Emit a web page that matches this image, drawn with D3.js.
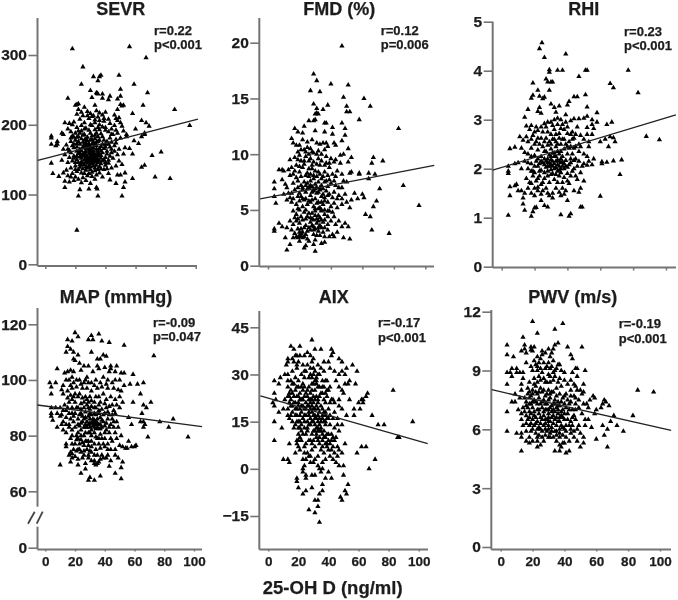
<!DOCTYPE html>
<html><head><meta charset="utf-8">
<script src="https://cdnjs.cloudflare.com/ajax/libs/d3/7.8.5/d3.min.js"></script>
<style>html,body{margin:0;padding:0;background:#fff}svg{display:block;filter:blur(0.4px)}text{font-family:"Liberation Sans",Arial,sans-serif;font-weight:bold;fill:#1c1c1c;stroke:#1c1c1c;stroke-width:0.25px}</style>
</head><body><svg id="c" width="678" height="600"></svg>
<script>
const xTickValues=[0,20,40,60,80,100];
const sevrTicks=[0,100,200,300], fmdTicks=[0,5,10,15,20], rhiTicks=[0,1,2,3,4,5], mapTicks=[0,60,80,100,120], aixTicks=[-15,0,15,30,45], pwvTicks=[0,3,6,9,12];
const sevrStats=["r=0.22","p<0.001"], fmdStats=["r=0.12","p=0.006"], rhiStats=["r=0.23","p<0.001"], mapStats=["r=-0.09","p=0.047"], aixStats=["r=-0.17","p<0.001"], pwvStats=["r=-0.19","p<0.001"];
const sevrLine=[[-5,149],[101.5,208]], fmdLine=[[-5,6],[105.7,9]], rhiLine=[[-5.5,1.97],[106,3.1]], mapLine=[[-5.3,91],[105.4,83.2]], aixLine=[[-5.3,23.2],[106,8]], pwvLine=[[-5.6,8.02],[107,5.95]];

const sevrPoints=[[18,309],[56,312],[67,296],[25,283],[32,269],[37,271],[36,269],[35,263],[49,271],[24,258],[59,258],[30,249],[50,251],[34,246],[34.5,245],[35,244],[38,244],[68,246],[43,241],[50,241],[15,238],[31,239],[38,238],[42,236],[48,237],[20,228],[22,230],[21,229],[33,228],[50,229],[52,228],[51,227],[65,228],[86,222],[48,222],[58,216],[64,206],[67,203],[69,198],[96,199],[60,194],[66,188],[59,177],[62,173],[58,158],[71,156],[77,161],[66,142],[64,139],[73,125],[83,123],[58,123],[51,98],[35,98],[22,98],[21,49],[13,110],[23,107],[29,108],[34,110],[34.5,108],[52,110],[53,118],[47,116],[43,121],[50,128],[53,131],[4,145],[5,130],[9,126],[4,184],[4,172],[8,172],[8,176],[11,188],[13,203],[16,202],[19,204],[7,170],[4,181],[12,186],[15,194],[18,200],[66,186],[64,183],[54,186],
[22,222],[24,218],[25,213],[21,215],[23,208],[26,203],[28,219],[30,216],[32,213],[34,220],[36,217],[38,214],[40,218],[33,207],[29,209],[36,206],[39,205],[42,208],[47,209],[48,206],[50,203],[51,198],[46,199],[44,194],[40,192],[35,196],[31,199],[27,195],[24,191],[20,188],[18,184],[22,183],[26,186],[30,188],[33,185],[37,187],[42,190],[45,186],[48,188],[52,191],[54,183],[50,181],[47,179],[43,181],[39,178],[35,176],[31,179],[28,177],[25,175],[21,173],[17,176],[14,171],[12,165],[16,163],[19,167],[23,165],[26,168],[29,170],[32,167],[34,170],[37,169],[40,172],[43,168],[46,170],[49,165],[53,167],[56,166],[52,158],[48,157],[44,160],[41,162],[38,160],[35,163],[32,160],[29,158],[27,161],[24,156],[22,159],[19,155],[16,153],[13,157],[11,149],[15,146],[18,148],[21,150],[24,147],[27,151],[30,152],[33,154],[31,148],[35,150],[37,152],[40,153],[42,149],[45,152],[49,148],[51,143],[47,141],[44,138],[40,142],[37,144],[34,142],[31,144],[29,141],[26,143],[23,139],[20,141],[17,138],[14,135],[12,131],[15,127],[18,130],[21,133],[24,131],[27,135],[30,136],[33,134],[36,131],[39,136],[42,130],[48,128],[28,127],[31,126],[25,124],[22,122],[19,120],[16,118],[13,119],[24,117],[27,120],[30,116],[33,122],[29,173],[31,172],[33,173],[27,170],[30,164],[34,165],[36,157],[30,156],[28,150],[26,155],[32,145],[33,147],[35,146],[29,146],[27,147],[26,160],[23,172],[36,178],[38,183],[20,178],[41,176],[44,175],[21,196],[17,190],[24,199],[38,197],[28,182],[33,193],[43,202],[46,214],[49,210],[26,225],[31,212],[35,211],[39,209],[28,213],[32,141],[25,137],[38,125],[20,125],[17,125],[36,140],[34,148],[32,152],[30,147],[28,165],[37,162],
[19,172],[22,176],[24,180],[26,178],[27,174],[29,166],[31,162],[33,158],[35,160],[37,156],[39,166],[41,158],[43,155],[46,162],[47,174],[24,163],[25,158],[27,156],[28,154],[30,160],[32,156],[34,157],[33,150],[35,155],[38,148],[40,146],[42,145],[28,145],[29,150],[31,152],[26,150],[24,152],[22,146],[20,146],[19,152],[17,160],[15,165],[18,170],[21,168],[23,160],[21,162],[29,162],[31,158],[34,175],[32,175],[30,178],[27,180],[25,185],[23,188],[21,182],[19,182],[17,181],[35,183],[33,180],[31,184],[38,172],[42,172],[44,165],[25,145],[27,140],[30,140],[33,138],[35,136],[23,143],[22,136],[20,136],[26,130],[29,130],[34,128],[31,132],[37,137],[41,137],[40,168],[39,150],[36,166],[24,142],[28,138],[32,163],[30,168],[34,152],[36,148],[26,172],[28,170],[25,168],[23,154],[21,155],[27,166],[36,193],[40,196],[44,186],[47,192],[34,188],[29,192],[26,194],[22,191],[30,200],[33,203],[36,200]];

const fmdPoints=[[47,19.7],[29,17.2],[31,16.6],[40,16.3],[51,16.2],[27,15.7],[33,15.6],[48,15.1],[61,15],[29,14.5],[38,14.4],[50,14.3],[65,14.3],[35,14],[31,14.1],[31,13.7],[32,13.6],[30,13.6],[50,13.8],[52,13.8],[58,13.1],[26,13],[29,13],[30,13.1],[47,12.8],[36,12.8],[37,12.8],[83,12.3],[23,12.5],[17,12.3],[41,12.4],[49,12.3],[30,12.1],[36,12],[19,12],[22,11.9],[12,1.4],[30,1.3],[29,1.9],[24,1.8],[20,2.2],[14,1.9],[11,2.5],[52,2.4],[48,2.5],[77,2.9],[66,3.2],[4,3.3],[4,3.1],[96,5.4],[86,7.2],[65,4.4],[62,4.6],[69,5.8],[67,5.3],[71,6.9],[73,9.4],[67,9.7],[66,9.2],[64,8.3],[68,8.2],[64,7.8],[58,8.3],[58,8.2],[4,7.5],[4,6.9],[4,6.2],[5,5.6],[7,8.6],[9,8.6],[10,8.5],[9,7.7],[11,7.3],[10,6.4],[12,5.9],[13,6.5],[61,6.1],[57,6],[60,6.4],[55,6.5],[53,5.9],[50,5.7],[52,5.2],[47,5.5],[49,6.4],[47,7],[48,7.6],[50,7.5],[52,8.3],[53,8.4],[51,9.3],[53,9.7],[51,10.5],[48,10],[46,9.9],[47,11.2],[49,11.7],[41,11.8],[37,11],[35,11],[33,10.9],[31,11],[28,11.3],[25,11.1],[22,11.3],[15,11.4],[16,11],[18,10.8],[20,10.8],[23,10.4],[25,10.6],[27,10.5],[29,10.1],[32,10.3],[36,10.4],[38,10.7],[42,11],[43,10.8],
[14,9.5],[17,9.7],[19,9.5],[21,9.4],[24,9.8],[27,9.6],[29,9.3],[32,9.6],[34,9.4],[37,9.2],[40,9.6],[43,9.5],[46,9.2],[13,8.6],[15,8.8],[17,8.5],[20,8.4],[22,8.8],[25,8.3],[28,8.7],[30,8.5],[33,8.2],[36,8.4],[39,8.8],[41,8.2],[44,8.5],[47,8.2],[16,7.4],[19,7.6],[21,7.2],[23,7.5],[25,7.4],[27,7.6],[28,7.1],[30,7.3],[32,7.5],[34,7.2],[36,7.5],[38,7.1],[40,7.4],[43,7.2],[45,7],[15,6.5],[17,6.8],[20,6.5],[22,6.8],[24,6.6],[26,6.9],[27,6.3],[29,6.7],[31,6.5],[33,6.8],[35,6.4],[37,6.7],[39,6.4],[42,6.6],[45,6.3],[47,6],[15,5.7],[18,5.5],[20,5.8],[23,5.9],[25,5.5],[27,5.7],[29,5.3],[31,5.6],[33,5.2],[35,5.5],[38,5.7],[40,5.3],[42,5.6],[44,5.2],[16,4.9],[18,4.6],[20,5],[23,4.8],[25,4.4],[28,4.7],[30,4.9],[32,4.5],[34,4.9],[36,4.6],[38,4.4],[41,4.8],[14,4],[16,3.7],[18,4],[20,3.8],[22,4.1],[24,3.6],[27,3.9],[29,3.5],[31,3.8],[33,3.6],[35,3.9],[38,3.7],[40,4],[43,3.7],[45,4],[47,3.5],[49,3.8],[51,3.5],[7,3.8],[9,3.5],[12,3.4],[15,3.2],[17,2.9],[19,3.3],[22,3],[24,2.8],[27,3.2],[29,3.2],[32,3.1],[35,3],[38,3.2],[41,2.8],[44,3],[18,2.6],[20,2.7],[21,2.6],[22,2.5],[16,2.5],[25,2.4],[34,2],[36,2.1],[42,2.6],[23,1.6],[26,2.2],[30,2.3],[22,6],[24,5],[26,8],[34,7.8],[29,7.8],[31,8],[26,7],[30,6],[32,4],[28,4.2],[33,4.3],[36,5],[34,5],[32,5.1],[30,4.5],[31,7],[33,7],[29,6.8],[27,7.2],[24,7.2],[35,6.9],
[19,10.2],[21,10.4],[24,10.2],[26,9.4],[28,9],[31,9.1],[33,9],[36,9],[39,9.2],[42,9.3],[18,9],[20,8.9],[23,9.1],[26,8.7],[29,8.1],[32,8.4],[35,8],[38,8.1],[43,8],[18,7.9],[21,8],[24,8.1],[27,8.2],[37,7.6],[39,7.7],[42,7.6],[22,7],[25,6.9],[28,6.6],[30,6.9],[32,6.6],[34,6.2],[36,6.1],[38,6.3],[41,6.1],[44,6],[16,6],[19,6.2],[21,6.2],[24,6],[26,5.8],[28,5.9],[30,5.1],[32,5.7],[34,5.7],[36,5.8],[39,4.9],[24,4.2],[26,4.7],[21,4.4],[19,4.2],[17,4.3],[27,4.3],[29,4.1],[31,4.2],[34,4.1],[36,4.1],[38,4.9],[42,4.4],[26,3.4],[28,3.6],[30,3.3],[32,3.4],[34,3.4],[36,3.4],[25,3.1],[23,3.4],[21,3.3],[20,3],[19,2.5],[21,2.9],[23,2.6],[29,2.8],[31,2.7],[33,2.7],[36,2.6],[39,2.6],[20,9.9],[28,10.2],[31,10],[34,10],[37,9.8],[23,9.4],[26,10],[16,8.2],[14,8.1],[12,7],[14,6.1],[19,7],[22,5.3],[19,5.1]];

const rhiPoints=[[24.5,4.57],[23,4.45],[26,4.27],[39,4.34],[29,4.02],[29,3.97],[34,4.01],[37,4.01],[51,4.01],[52,4.01],[77,4.01],[47,3.88],[27,3.83],[28,3.77],[30,3.77],[31,3.77],[19,3.75],[66,3.74],[68,3.65],[83,3.55],[22,3.6],[29,3.6],[19,3.5],[18,3.44],[23,3.48],[25,3.43],[26,3.46],[44,3.47],[46,3.47],[51,3.51],[41,3.37],[40,3.3],[30,3.32],[32,3.25],[35,3.28],[23,3.25],[22,3.17],[16,3.21],[24,3.13],[33,3.15],[52,3.26],[58,3.14],[14,3.05],[39,3.1],[55,3],[88,2.66],[96,2.59],[5,2.41],[8,2.44],[4,2.05],[4,1.95],[4,1.9],[5,1.63],[8,1.65],[9,1.68],[5,1.45],[4,1.05],[13,1.4],[13,1.28],[14,1.15],[18,1.03],[19,1.12],[20,1.2],[21,1.21],[24,1.35],[26,1.25],[28,1.22],[36,1.06],[41,1.03],[42,1.08],[48,1.22],[49,1.22],[60,1.44],[72,1.88],[68,2.16],[73,2.18],[61,2.14],[64,2.13],[61,2.1],[65,2.45],[69,2.55],[66,2.65],[68,2.63],[60,2.55],[63,2.6],[64,2.9],[67,2.95],[58,2.95],[55,2.9],[56,2.82],[52,2.84],[52,3.07],[50,3.03],[47,3.02],[44,3.02],[42,2.98],
[11,2.65],[13,2.58],[15,2.87],[16,2.55],[17,2.8],[19,2.68],[20,2.5],[22,2.78],[24,2.62],[26,2.92],[28,2.75],[29,2.55],[31,2.88],[33,2.7],[34,3.03],[36,2.82],[37,2.6],[39,2.95],[40,2.72],[41,2.55],[42,2.7],[44,2.62],[46,2.85],[48,2.68],[50,2.6],[52,2.7],[53,2.55],[55,2.7],[47,2.5],[12,2.42],[14,2.33],[16,2.3],[18,2.42],[20,2.27],[22,2.38],[24,2.25],[25,2.45],[27,2.35],[28,2.2],[30,2.4],[32,2.25],[33,2.45],[35,2.3],[36,2.2],[38,2.4],[40,2.3],[42,2.45],[43,2.3],[45,2.2],[47,2.35],[50,2.3],[52,2.25],[53,2.45],[10,2.12],[8,2.1],[12,2],[14,2.15],[16,2],[18,2.1],[19,1.95],[21,2.15],[22,2.05],[23,1.95],[25,2.12],[27,2.03],[28,1.95],[29,2.12],[30,2.18],[31,2.05],[32,2],[33,2.15],[34,2.08],[35,1.97],[36,2.12],[37,2.05],[38,2],[39,2.17],[40,2.03],[42,2.12],[44,2],[46,2.05],[49,2.05],[52,2.07],[55,2.08],[56,2.2],[15,1.8],[17,1.72],[19,1.85],[20,1.6],[21,1.75],[23,1.85],[24,1.68],[26,1.8],[27,1.6],[29,1.72],[30,1.88],[32,1.78],[33,1.6],[35,1.85],[37,1.72],[39,1.55],[41,1.7],[42,1.85],[44,1.55],[46,1.78],[48,1.6],[50,1.75],[47,1.52],[12,1.55],[10,1.55],[14,1.5],[16,1.6],[18,1.5],[20,1.45],[22,1.55],[24,1.48],[25,1.55],[29,1.45],[31,1.4],[36,1.45],[38,1.48],[40,1.35],[31,1.5],[30,2.5],[34,2.5],[32,2.6],[29,2.28],[31,2.32],[33,2.25],[28,2.05],[26,2.2],[35,2.15],[30,1.98],[34,1.95],[37,2.25],[38,2.6],[23,2.1],[45,2.45],[43,2.6],[42,2.2],[24,2.85],[18,2.25],[21,2.85],
[26,2.08],[27,2.15],[29,2.05],[30,2.08],[31,2.15],[32,2.1],[33,2.02],[34,2.18],[35,2.05],[36,2],[37,2.14],[38,2.1],[39,2.05],[41,2.08],[28,2.12],[30,2.25],[32,2.32],[34,2.35],[36,2.35],[26,2.35],[24,2.15],[22,2.2],[20,2.05],[24,1.97],[26,1.92],[28,1.85],[31,1.9],[33,1.88],[36,1.92],[38,1.82],[40,1.9],[18,1.95],[16,2.12],[20,1.92],[22,1.8],[18,1.7],[22,1.62],[25,1.72],[28,1.5],[34,1.72],[26,2.55],[27,2.62],[28,2.48],[31,2.6],[33,2.55],[35,2.62],[36,2.5],[39,2.5],[41,2.42],[21,2.55],[23,2.5],[18,2.6],[15,2.65],[22,2.62],[25,2.75],[27,2.85],[30,2.7],[32,2.8],[35,2.72],[37,2.9],[40,2.85],[43,2.75],[45,2.7],[30,2.95],[32,3],[34,2.9],[36,3],[28,2.95],[20,2.75],[18,2.88],[38,2.8],[40,2.45],[44,2.42],[48,2.45],[47,2.15],[44,2.17],[50,2.1],[53,2.15],[43,1.95],[45,1.85],[48,1.92],[40,1.75],[37,1.6],[35,1.52]];

const mapPoints=[[20,117],[22,115.5],[31,116],[36,116.5],[32,114.5],[29,114.5],[15,114.5],[18,114],[38,114],[43,113.5],[53,112.5],[15,112],[17,111],[14,110],[19,110],[22,109],[31,110],[39,109],[73,108.7],[41,108.5],[19,107.5],[20,107],[35,107.5],[37,107.5],[23,106],[26,105],[29,105],[35,105],[40,104.5],[44,105],[44,104],[48,105],[8,104],[17,103.5],[15,103],[13,102.5],[19,103],[24,103.5],[32,103],[36,104],[43,103],[47,103],[51,102.5],[53,102.5],[59,102],[3,99],[7,99],[4,97.5],[18,101],[16,100],[14,100],[23,100],[27,100],[29,99],[31,99],[34,100],[39,101],[42,100],[45,99],[50,100],[57,98.5],[62,98.5],[66,99],[53,98],[12,98],[11,96.5],[15,96],[18,97],[21,97.5],[25,97],[28,97],[31,96],[35,97],[38,97.5],[42,97],[46,97],[49,96.5],[51,96],[4,95],[12,95],[64,95],[22,94],[25,93.5],[27,94],[30,94],[36,94],[39,95],[44,94],[47,93],[50,94],[18,93],[16,92],[20,92],[24,91.5],[29,92],[33,92],[37,92],[41,93],[45,91],[52,92],[59,92],[71,92],[13,91],[66,91],[4,90],[7,90],[10,90],[14,89],[18,90],[22,90],[26,90],[29,90],[31,90.5],[34,90],[38,89.5],[41,90],[46,89],[50,90],[68,90],[4,88],[8,88],[11,87.5],[16,88],[20,88],[24,88],[27,88.5],[30,88],[33,88],[36,88],[40,88],[43,87.5],[47,88],[65,88],[4,87],[14,86.5],[17,86],[22,86],[26,86],[29,87],[32,86],[35,86],[37,86.5],[42,86],[45,86],[48,85],[56,86.5],[86,86],[5,85.5],[12,85],[19,85],[24,84.5],[28,85],[31,84.5],[33,84.5],[34,85],[36,84],[39,85],[44,84],[64,85],[66,85],[77,85],[67,84],[32,83.5],[33,83],[35,83],[34,82.5],[36,82.5],[31,82],[8,83],[12,82],[16,83],[20,83],[24,82],[27,83],[30,83],[38,83],[41,82],[46,83],[49,83],[58,84],[66,83],[83,83],[14,81],[18,80],[22,81],[26,80],[29,81],[33,81],[37,80.5],[43,81],[47,81],[51,80],[96,79.5],[69,79.5],[17,79],[21,78.5],[24,78.5],[28,78],[31,78],[35,79],[40,79],[45,78],[56,78],[14,77],[18,77],[23,77],[26,76.5],[29,76.5],[31,76],[36,77],[39,77],[50,76.5],[52,76],[58,76],[60,76],[61,76.5],[14,76],[19,75],[22,75],[26,74.5],[30,74.5],[34,75],[37,75.5],[40,76],[44,75],[47,75],[54,75.5],[55,75.5],[17,74],[18,73.5],[21,74.5],[24,74],[29,73],[33,73],[38,73],[42,73],[47,73],[16,73],[18,72],[22,71.5],[29,72],[33,71],[37,71.5],[41,72],[49,72],[52,70.5],[17,70.5],[10,69.5],[22,69.5],[27,70],[33,70],[34,69.5],[36,70.5],[43,69],[51,68.5],[27,68],[24,66.5],[37,65.5],[47,66.5],[30,65],[29,64],[33,64],[51,64.5],
[21,100],[19,99],[24,98.5],[17,98],[26,99],[28,101],[37,99],[41,98.5],[47,100],[33,98],[23,95],[20,95],[17,94.5],[15,93.5],[26,92],[28,93],[31,92.5],[34,94],[36,91],[40,91.5],[43,90.5],[48,91],[21,90],[24,89.5],[28,91],[30,89.5],[33,90],[36,89],[39,87.5],[42,88.5],[45,87.5],[19,87],[23,87.5],[25,87],[27,86.5],[30,86],[31,87.5],[34,87.5],[38,85.5],[41,84.5],[46,85],[23,83.5],[26,83],[28,83],[29,84],[32,85],[30,84.5],[35,84.5],[37,84],[34,84],[33,85.5],[37,82.5],[40,83.5],[43,83],[18,82],[21,80],[24,80],[27,81],[30,81],[31,80],[34,79.5],[36,79],[40,81],[44,79],[20,77],[22,79],[25,77.5],[27,78],[29,78],[33,77],[38,79],[42,77],[48,79],[23,75],[26,73],[28,75],[31,74],[35,73],[42,75],[20,72.5],[25,72],[31,71],[35,70],[39,72],[44,71],[16,84],[14,84],[11,84],[18,88],[15,90],[12,89],[10,87],[22,84],[25,85],[27,84],[19,94]];

const aixPoints=[[29,41],[15,39],[21,39],[17,38],[31,38],[35,38],[42,38],[26,37],[43,37],[12,33],[13,34],[13,35],[24,36],[28,36],[30,35],[18,36],[19,36],[42,36],[47,35],[49,34],[56,33],[59,31],[17,34],[20,34],[23,33],[29,34],[33,33],[37,34],[40,34],[52,32],[11,30],[13,30],[8,29],[4,28],[7,27],[16,31],[19,32],[22,30],[25,31],[28,32],[31,31],[34,30],[37,31],[41,32],[44,31],[47,30],[49,31],[51,30],[13,28],[15,28],[18,29],[20,28],[24,29],[27,29],[29,29],[30,30],[31,28],[32,28],[30,27],[29,27],[32,27],[36,28],[39,28],[45,28],[54,28],[53,27],[58,27],[13,26],[17,27],[19,26],[22,26],[24,26],[26,25],[34,26],[37,26],[39,25],[41,26],[47,26],[49,25],[51,27],[4,24],[14,24],[16,24],[18,25],[21,24],[23,25],[25,24],[28,24],[36,24],[38,24],[40,25],[50,24],[66,24],[83,25],[65,23],[62,22],[63,22],[5,22],[11,22],[13,23],[15,22],[17,23],[20,23],[22,22],[24,23],[27,22],[29,22],[31,22],[32,23],[33,22],[42,22],[43,22],[47,22],[54,22],[3,21],[14,21],[18,21],[20,21],[25,21],[28,21],[30,21],[33,21],[35,20],[38,21],[44,21],[60,21],[63,21],[4,20],[7,18],[16,20],[23,20],[27,20],[29,20],[31,19],[33,19],[47,20],[49,19],[57,19],[61,19],[10,19],[13,19],[19,19],[21,19],[25,19],[36,19],[38,18],[40,19],[44,18],[52,17],[57,17],[69,17],[13,17],[15,17],[18,17],[21,17],[24,17],[27,17],[30,17],[33,17],[36,16],[38,17],[41,17],[46,16],[4,15],[14,16],[16,15],[20,15],[23,16],[26,15],[28,16],[30,15],[33,15],[35,15],[37,15],[40,16],[96,15],[73,14],[77,14],[18,14],[21,13],[24,13],[28,14],[31,14],[32,13],[34,14],[38,14],[44,13],[49,14],[9,13],[17,13],[86,10],[87,10],[22,12],[26,12],[31,12],[33,12],[35,12],[39,11],[42,11],[47,12],[20,11],[25,11],[29,11],[34,10],[37,10],[45,10],[4,9],[19,9],[22,9],[28,9],[32,10],[40,9],[44,9],[14,8],[19,8],[20,7],[24,7],[29,8],[34,8],[38,8],[41,8],[46,7],[51,8],[62,7],[65,7],[21,6],[29,6],[35,6],[39,7],[42,6],[47,6],[18,5],[24,5],[26,5],[37,5],[44,5],[49,5],[59,5],[10,3],[13,3],[14,2],[25,3],[28,4],[31,3],[33,4],[41,4],[43,3],[46,4],[71,3],[30,2],[33,1],[36,2],[38,3],[47,1],[50,1],[24,1],[67,0],[23,0],[34,0],[36,0],[23,-1],[25,-2],[29,-2],[31,-2],[35,-1],[40,-1],[50,-2],[19,-3],[19,-4],[25,-3],[38,-3],[42,-3],[36,-5],[53,-5],[20,-6],[29,-6],[36,-7],[23,-8],[25,-7],[34,-8],[51,-7],[52,-8],[48,-9],[49,-10],[31,-10],[33,-10],[33,-12],[27,-13],[31,-14],[34,-17],
[16,35],[19,33],[21,36],[26,33],[28,30],[24,31],[30,32],[32,29],[33,30],[35,32],[36,26],[38,28],[29,25],[31,25],[33,26],[27,26],[23,27],[20,26],[16,27],[15,25],[14,23],[17,21],[19,23],[21,22],[23,22],[26,23],[28,22],[30,23],[34,23],[35,24],[37,22],[39,23],[41,21],[15,20],[18,19],[20,20],[22,20],[24,19],[26,20],[28,19],[30,19],[32,20],[34,18],[36,17],[38,15],[16,18],[19,17],[22,18],[25,17],[27,18],[29,18],[31,17],[32,16],[34,16],[37,18],[39,16],[43,16],[19,15],[21,15],[24,15],[27,14],[29,15],[31,16],[33,13],[35,13],[37,12],[41,14],[46,14],[22,14],[20,13],[26,13],[30,12],[32,11],[34,12],[36,11],[38,10],[40,11],[43,10],[21,10],[23,11],[27,9],[30,9],[33,9],[36,9],[39,8],[42,9],[20,9],[25,8],[31,7],[36,7],[40,6],[43,7],[27,4],[45,2],[28,2],[23,3]];

const pwvPoints=[[20,11.5],[39,11.4],[34,11.1],[23,10.9],[14,10.7],[4,10.3],[15,10.3],[36,10.4],[34,10.3],[51,10.2],[42,10.2],[19,10.2],[21,10.2],[33,10.1],[30,10.1],[13,10],[15,10.1],[16,9.9],[19,10.05],[20,10],[28,9.9],[26,9.8],[32,9.9],[4,9.8],[8,9.7],[44,9.8],[45,9.6],[23,9.7],[25,9.6],[31,9.7],[21,9.5],[22,9.3],[27,9.4],[30,9.4],[33,9.5],[16,9.4],[38,9],[36,9.3],[37,9.3],[19,9.2],[29,9.2],[32,9.2],[35,9.1],[47,9.1],[48,9.1],[53,9],[7,9.1],[10,9.1],[4,8.9],[6,8.9],[10,8.9],[12,8.9],[14,8.9],[20,9],[23,9],[26,8.9],[30,8.8],[40,8.9],[45,8.9],[7,8.7],[14,8.6],[24,8.7],[27,8.6],[31,8.7],[34,8.7],[37,8.6],[48,8.7],[18,8.4],[21,8.3],[23,8.4],[29,8.4],[33,8.5],[13,8.3],[4,8.3],[42,8.3],[46,8.3],[47,8.2],[52,8.3],[86,8],[96,7.9],[13,8],[17,8.1],[20,8],[22,8.2],[25,8.1],[30,8],[35,8.1],[38,8.2],[44,8],[48,8],[50,8],[52,7.9],[17,7.8],[19,7.7],[23,7.8],[26,7.9],[28,7.7],[32,7.9],[37,7.8],[41,7.8],[51,7.8],[9,7.8],[12,7.6],[15,7.6],[18,7.6],[21,7.5],[24,7.6],[27,7.5],[31,7.6],[34,7.5],[39,7.6],[42,7.5],[46,7.7],[49,7.5],[58,7.7],[59,7.6],[56,7.5],[7,7.4],[9,7.4],[16,7.4],[19,7.3],[22,7.4],[25,7.3],[29,7.3],[33,7.3],[36,7.4],[43,7.3],[47,7.3],[52,7.3],[54,7.3],[65,7.5],[66,7.4],[64,7.3],[68,7.2],[11,7],[14,7.1],[17,7.1],[20,7.1],[23,7],[26,7.1],[29,7],[31,7.1],[33,7],[35,7.1],[37,7.2],[39,7],[41,7.1],[45,7],[49,7.1],[55,7.1],[60,7],[63,7.1],[4,6.9],[13,6.8],[16,6.7],[19,6.8],[21,6.7],[24,6.8],[27,6.7],[30,6.8],[33,6.7],[36,6.8],[38,6.7],[42,6.8],[46,6.7],[51,6.8],[59,6.8],[71,6.7],[83,6.7],[13,6.5],[17,6.5],[20,6.5],[23,6.4],[26,6.5],[29,6.5],[31,6.4],[34,6.5],[37,6.4],[40,6.5],[44,6.4],[47,6.5],[53,6.5],[55,6.5],[69,6.4],[14,6.2],[18,6.2],[21,6.2],[24,6.1],[27,6.2],[30,6.2],[32,6.1],[35,6.2],[39,6.1],[43,6.2],[49,6.2],[53,6.2],[57,6.1],[64,6.2],[73,6.2],[67,6],[4,5.9],[10,5.8],[13,5.8],[16,5.9],[19,5.9],[22,5.8],[26,5.9],[29,5.9],[31,5.8],[34,5.9],[37,5.8],[41,5.9],[46,5.9],[48,6],[50,5.8],[77,5.9],[13,5.6],[18,5.6],[23,5.6],[26,5.6],[30,5.6],[33,5.6],[37,5.6],[41,5.6],[46,5.6],[52,5.6],[65,5.7],[60,5.5],[16,5.4],[20,5.4],[23,5.4],[27,5.4],[35,5.4],[40,5.3],[43,5.4],[48,5.4],[52,5.3],[18,5.3],[23,5.1],[25,5.2],[37,5.2],[38,5.1],[39,5.3],[50,5.1],[67,5.1],[13,4.9],[34,4.9],[37,4.9],[41,4.8],[43,4.9],
[18,7.9],[20,7.8],[22,7.9],[24,7.9],[27,8],[29,7.8],[31,7.8],[33,7.9],[35,7.7],[40,7.7],[44,7.7],[16,7.2],[18,7.3],[20,7.4],[23,7.3],[26,7.4],[28,7.3],[30,7.5],[32,7.2],[34,7.3],[36,7.2],[38,7.4],[40,7.3],[44,7.4],[47,7.6],[18,6.9],[21,6.9],[24,7],[27,6.9],[28,7],[30,7],[32,6.9],[34,6.9],[36,7],[38,6.9],[40,6.8],[43,7],[47,7],[15,6.9],[18,6.6],[22,6.6],[25,6.6],[28,6.5],[30,6.6],[32,6.6],[35,6.6],[37,6.6],[39,6.6],[42,6.5],[45,6.6],[16,6.3],[19,6.3],[22,6.3],[25,6.3],[28,6.3],[30,6.4],[33,6.3],[36,6.4],[38,6.2],[41,6.2],[45,6.2],[20,6],[23,6],[25,6],[28,6],[30,6],[32,5.9],[35,5.9],[37,6],[40,6],[44,6],[24,5.7],[28,5.7],[31,5.6],[35,5.7],[39,5.7],[44,5.8],[21,8.6],[25,8.5],[28,8.4],[31,8.4],[36,8.4],[40,8.5],[44,8.5],[23,9.2],[25,9.1],[28,9.1],[34,9],[31,9.1],[26,10],[24,9.4],[33,8.9]];

const panels=[
 {title:"SEVR",tx:120.7,ty:14.5,points:sevrPoints,line:sevrLine,yd:[0,300],yr:[264.3,55],ticks:sevrTicks,stats:sevrStats,sx:154,sy:[35,49],ax:37.5,top:18,ay:266,xr:[45.3,195.7],xend:197,labels:false},
 {title:"FMD (%)",tx:339.3,ty:15,points:fmdPoints,line:fmdLine,yd:[0,20],yr:[265.7,42.7],ticks:fmdTicks,stats:fmdStats,sx:380.7,sy:[35,49],ax:259.3,top:18,ay:266.5,xr:[268,425.3],xend:434,labels:false},
 {title:"RHI",tx:583.7,ty:15,points:rhiPoints,line:rhiLine,yd:[0,5],yr:[266.7,21.7],ticks:rhiTicks,stats:rhiStats,sx:624,sy:[35.5,50],ax:492.7,top:21.7,ay:267.5,xr:[501.7,666],xend:676,labels:false},
 {title:"MAP (mmHg)",tx:116,ty:302.5,points:mapPoints,line:mapLine,yd:[0,60,120],yr:[547.7,491.3,324.3],ticks:mapTicks,stats:mapStats,sx:153,sy:[327,340.5],ax:37.5,top:308,ay:549.5,xr:[45.3,194],xend:202,labels:true,brk:[506.7,526.7]},
 {title:"AIX",tx:333.7,ty:302.5,points:aixPoints,line:aixLine,yd:[-15,45],yr:[516,327.3],ticks:aixTicks,stats:aixStats,sx:378,sy:[327,342],ax:259.3,top:311,ay:549.5,xr:[268.3,418.7],xend:428,labels:true},
 {title:"PWV (m/s)",tx:572.7,ty:302.5,points:pwvPoints,line:pwvLine,yd:[0,12],yr:[547,311.7],ticks:pwvTicks,stats:pwvStats,sx:618.7,sy:[328,343],ax:491.3,top:310,ay:549.5,xr:[500.7,660],xend:671,labels:true}
];
const svg=d3.select("#c");
const gray="#747474";
panels.forEach(p=>{
 const x=d3.scaleLinear().domain([0,100]).range(p.xr);
 const y=d3.scaleLinear().domain(p.yd).range(p.yr);
 const g=svg.append("g");
 const ya=g.append("g").attr("transform",`translate(${p.ax},0)`).call(d3.axisLeft(y).tickValues(p.ticks).tickSize(9).tickPadding(1.5).tickFormat(d3.format("d")));
 ya.select(".domain").remove();
 ya.selectAll(".tick line").attr("stroke",gray).attr("stroke-width",1.6);
 ya.selectAll("text").attr("font-size",15.5).attr("fill","#1c1c1c").style("font-family",'"Liberation Sans"').style("font-weight","bold");
 const segs=p.brk?[[p.top,p.brk[0]],[p.brk[1],p.ay]]:[[p.top,p.ay]];
 segs.forEach(s=>g.append("line").attr("x1",p.ax).attr("x2",p.ax).attr("y1",s[0]).attr("y2",s[1]).attr("stroke",gray).attr("stroke-width",2));
 if(p.brk){[[28,523.7,34.7,511.7],[36.7,523.7,42.7,511.7]].forEach(c=>g.append("line").attr("x1",c[0]).attr("y1",c[1]).attr("x2",c[2]).attr("y2",c[3]).attr("stroke","#444").attr("stroke-width",1.8));}
 const xa=g.append("g").attr("transform",`translate(0,${p.ay})`).call(d3.axisBottom(x).tickValues(xTickValues).tickSize(p.labels?2:3).tickPadding(p.labels?4.5:0).tickFormat(p.labels?d3.format("d"):""));
 xa.select(".domain").remove();
 xa.selectAll(".tick line").attr("stroke",gray).attr("stroke-width",1.5);
 xa.selectAll("text").attr("font-size",13.5).attr("fill","#1c1c1c").style("font-family",'"Liberation Sans"').style("font-weight","bold");
 g.append("line").attr("x1",p.ax).attr("x2",p.xend).attr("y1",p.ay).attr("y2",p.ay).attr("stroke",gray).attr("stroke-width",2);
 const sym=d3.symbol().type(d3.symbolTriangle).size(12);
 g.append("g").selectAll("path").data(p.points).join("path").attr("d",sym).attr("fill","#000").attr("transform",d=>`translate(${x(d[0])},${y(d[1])})`);
 g.append("path").datum(p.line).attr("d",d3.line().x(d=>x(d[0])).y(d=>y(d[1]))).attr("fill","none").attr("stroke","#222").attr("stroke-width",1.3);
 g.append("text").attr("x",p.tx).attr("y",p.ty).attr("text-anchor","middle").attr("font-size",18).text(p.title);
 p.stats.forEach((s,i)=>g.append("text").attr("x",p.sx).attr("y",p.sy[i]).attr("font-size",13).text(s));
});
svg.append("text").attr("x",332.7).attr("y",594).attr("text-anchor","middle").attr("font-size",18.5).text("25-OH D (ng/ml)");
</script></body></html>
